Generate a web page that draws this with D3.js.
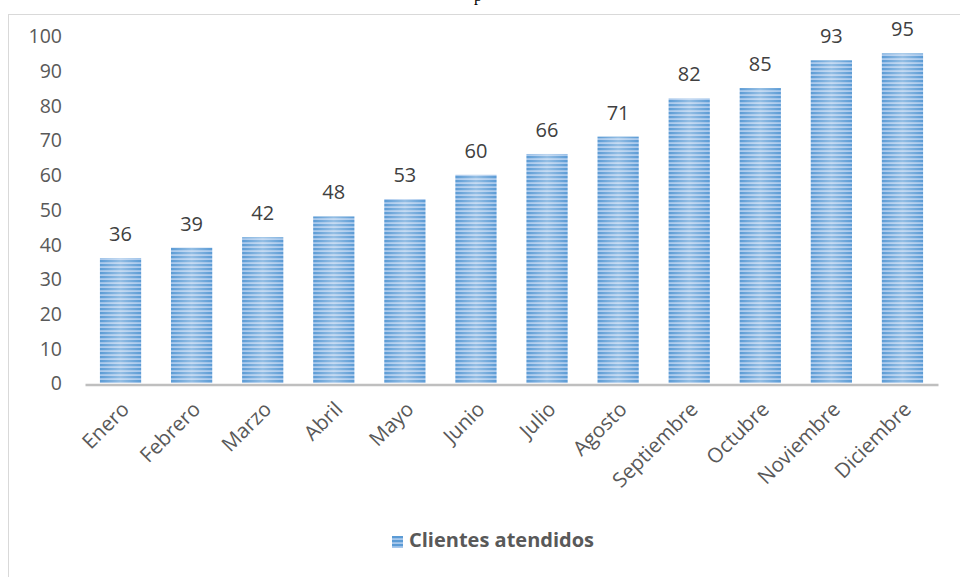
<!DOCTYPE html>
<html><head><meta charset="utf-8">
<script src="https://cdn.jsdelivr.net/npm/d3@7"></script>
<style>body{margin:0;background:#fff}svg{display:block}</style>
</head><body>
<script>
const months = ["Enero","Febrero","Marzo","Abril","Mayo","Junio","Julio","Agosto","Septiembre","Octubre","Noviembre","Diciembre"];
const clientes = [36,39,42,48,53,60,66,71,82,85,93,95];
const yTicks = [0,10,20,30,40,50,60,70,80,90,100];
const seriesName = "Clientes atendidos";

const W = 960, H = 577;
const svg = d3.select("body").append("svg").attr("width", W).attr("height", H);
const defs = svg.append("defs");
const pat = defs.append("pattern").attr("id","stripes").attr("patternUnits","userSpaceOnUse")
  .attr("width",8).attr("height",4);
pat.append("rect").attr("width",8).attr("height",4).attr("fill","#a8c8ec");
pat.append("rect").attr("y",0).attr("width",8).attr("height",2.2).attr("fill","#5b9bd5");
const grad = defs.append("linearGradient").attr("id","shine").attr("x1","0").attr("x2","1").attr("y1","0").attr("y2","0");
grad.append("stop").attr("offset","0").attr("stop-color","#fff").attr("stop-opacity",0);
grad.append("stop").attr("offset","0.5").attr("stop-color","#fff").attr("stop-opacity",0.35);
grad.append("stop").attr("offset","1").attr("stop-color","#fff").attr("stop-opacity",0);

// border and clipped title
svg.append("rect").attr("x",8.5).attr("y",14.5).attr("width",W+10).attr("height",H+10)
  .attr("fill","none").attr("stroke","#d9d9d9").attr("stroke-width",1);
svg.append("text").attr("x",478).attr("y",1).attr("text-anchor","middle")
  .attr("font-family","Liberation Serif").attr("font-size",16).attr("fill","#000").text("p");

const x = d3.scaleBand().domain(months).range([85,938]).paddingInner(0.42).paddingOuter(0.21);
const y = d3.scaleLinear().domain([0,100]).range([383,36]);

const font = "'Open Sans', sans-serif";
const txt = "#595959";

// y axis labels
const yAxis = d3.axisLeft(y).tickValues(yTicks).tickSize(0).tickPadding(0);
const gy = svg.append("g").attr("transform","translate(62,0)").call(yAxis);
gy.select(".domain").remove();
gy.selectAll("text").attr("font-family",font).attr("font-size",19.5).attr("fill",txt).attr("dy","0.35em");

// bars
const bars = svg.append("g");
bars.selectAll("rect.b").data(clientes).join("rect").attr("class","b")
  .attr("x",(d,i)=>x(months[i])).attr("width",x.bandwidth())
  .attr("y",d=>y(d)).attr("height",d=>y(0)-y(d)).attr("fill","url(#stripes)");
bars.selectAll("rect.s").data(clientes).join("rect").attr("class","s")
  .attr("x",(d,i)=>x(months[i])).attr("width",x.bandwidth())
  .attr("y",d=>y(d)).attr("height",d=>y(0)-y(d)).attr("fill","url(#shine)");

// data labels
svg.append("g").selectAll("text").data(clientes).join("text")
  .attr("x",(d,i)=>x(months[i])+x.bandwidth()/2).attr("y",d=>y(d)-17)
  .attr("text-anchor","middle").attr("font-family",font).attr("font-size",20).attr("fill","#404040")
  .text(d=>d);

// x axis
const xAxis = d3.axisBottom(x).tickSize(0).tickPadding(0);
const gx = svg.append("g").attr("transform","translate(0,384.5)").call(xAxis);
gx.select(".domain").attr("stroke","#bfbfbf").attr("stroke-width",2.5);
gx.selectAll("text").attr("font-family",font).attr("font-size",20.5).attr("fill",txt)
  .attr("text-anchor","end").attr("dy",0).attr("y",0)
  .attr("transform","translate(10,26) rotate(-45)");

// legend
const lg = svg.append("g");
lg.append("rect").attr("x",392).attr("y",536).attr("width",11).attr("height",12).attr("fill","url(#stripes)");
lg.append("text").attr("x",409).attr("y",547).attr("font-family",font).attr("font-weight","bold")
  .attr("font-size",20).attr("fill",txt).text(seriesName);
</script>
</body></html>
